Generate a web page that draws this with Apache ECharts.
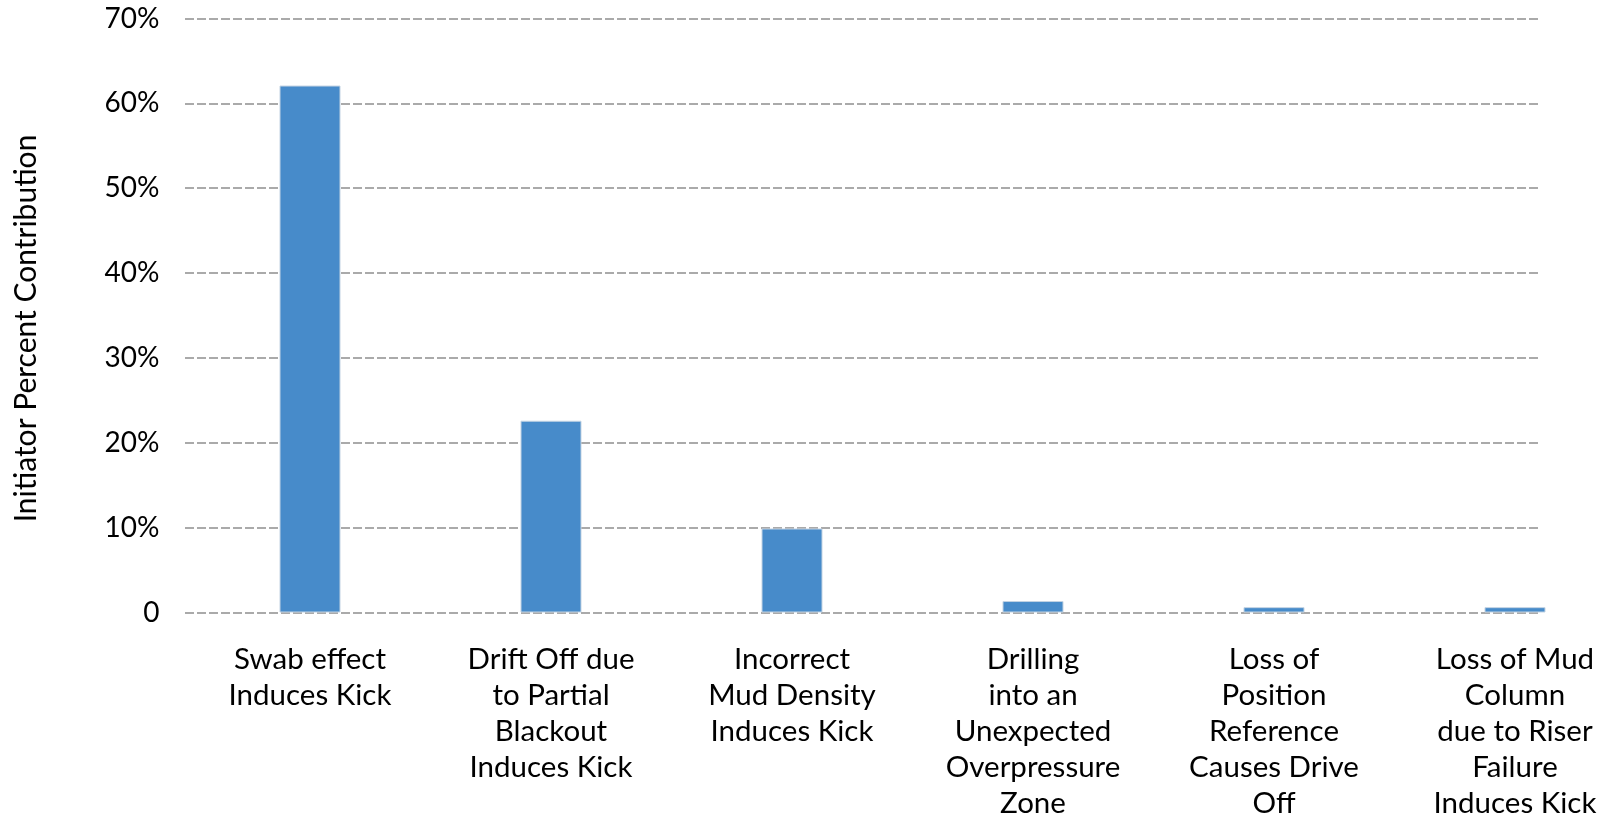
<!DOCTYPE html>
<html>
<head>
    <meta charset="UTF-8">
    <title>Initiator Percent Contribution</title>
    <script src="https://cdn.jsdelivr.net/npm/echarts@6/dist/echarts.min.js"></script>
    <style>
        html, body { margin: 0; padding: 0; background: #fff; }
        #chart { width: 1612px; height: 816px; }
    </style>
</head>
<body>
    <div id="chart"></div>
    <script type="text/javascript">
        // categories along the x axis
        const categories = [
            'Swab effect\nInduces Kick',
            'Drift Off due\nto Partial\nBlackout\nInduces Kick',
            'Incorrect\nMud Density\nInduces Kick',
            'Drilling\ninto an\nUnexpected\nOverpressure\nZone',
            'Loss of\nPosition\nReference\nCauses Drive\nOff',
            'Loss of Mud\nColumn\ndue to Riser\nFailure\nInduces Kick'
        ];

        // percent contribution per initiator
        const contribution = [62.1, 22.6, 9.9, 1.35, 0.63, 0.63];

        // y axis range
        const yMin = 0;
        const yMax = 70;
        const yStep = 10;

        const fontName = 'Lato';

        function pctLabel(v) {
            return v === 0 ? '0' : v + '%';
        }

        var chart = echarts.init(document.getElementById('chart'), null, { renderer: 'canvas' });

        var option = {
            backgroundColor: '#ffffff',
            animation: false,
            textStyle: { fontFamily: fontName, color: '#000' },
            grid: [
                // grid for the bars (plot area runs past the right edge in the original)
                { left: 189.5, right: -23.5, top: 18.5, bottom: 203.5, outerBoundsMode: 'none', containLabel: false },
                // grid only for the dashed gridlines
                { left: 185, right: 71, top: 18.5, bottom: 203.5, outerBoundsMode: 'none', containLabel: false }
            ],
            xAxis: [
                {
                    type: 'category',
                    gridIndex: 0,
                    data: categories,
                    axisLine: { show: false },
                    axisTick: { show: false },
                    axisLabel: {
                        interval: 0,
                        margin: 29,
                        fontSize: 29.5,
                        lineHeight: 36,
                        color: '#000',
                        fontFamily: fontName,
                        align: 'center'
                    }
                },
                {
                    type: 'value',
                    gridIndex: 1,
                    min: 0,
                    max: 1,
                    show: false
                }
            ],
            yAxis: [
                {
                    type: 'value',
                    gridIndex: 0,
                    min: yMin,
                    max: yMax,
                    interval: yStep,
                    name: 'Initiator Percent Contribution',
                    nameLocation: 'middle',
                    nameGap: 148,
                    nameTextStyle: {
                        fontSize: 30,
                        color: '#000',
                        fontFamily: fontName,
                        padding: [0, 26, 0, 0]
                    },
                    axisLine: { show: false },
                    axisTick: { show: false },
                    splitLine: { show: false },
                    axisLabel: {
                        margin: 30,
                        fontSize: 28,
                        color: '#000',
                        fontFamily: fontName,
                        formatter: pctLabel
                    }
                },
                {
                    type: 'value',
                    gridIndex: 1,
                    min: yMin,
                    max: yMax,
                    interval: yStep,
                    axisLine: { show: false },
                    axisTick: { show: false },
                    axisLabel: { show: false },
                    splitLine: {
                        show: true,
                        lineStyle: { color: '#aaaaaa', width: 2, type: [9, 3] }
                    }
                }
            ],
            series: [
                {
                    type: 'bar',
                    xAxisIndex: 0,
                    yAxisIndex: 0,
                    data: contribution,
                    barWidth: 61,
                    z: 3,
                    itemStyle: {
                        color: '#478bca',
                        borderColor: '#c3d3e3',
                        borderWidth: 1
                    }
                }
            ]
        };

        chart.setOption(option);
    </script>
</body>
</html>
